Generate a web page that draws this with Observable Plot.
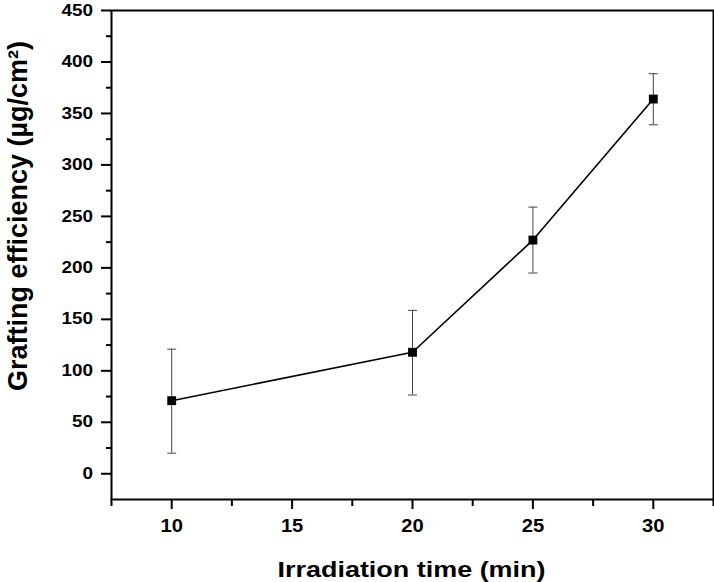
<!DOCTYPE html>
<html>
<head>
<meta charset="utf-8">
<script src="https://cdn.jsdelivr.net/npm/d3@7"></script>
<script src="https://cdn.jsdelivr.net/npm/@observablehq/plot@0.6"></script>
<style>
  html, body { margin: 0; padding: 0; background: #fff; }
  #chart svg { display: block; background: #fff; color: #000; font-family: "Liberation Sans", Arial, sans-serif; }
</style>
</head>
<body>
<div id="chart"></div>
<script>
// Data
const times = [10, 20, 25, 30];
const efficiency = [71, 118, 227, 364];
const errLow = [20, 76.5, 195, 339];
const errHigh = [121, 158.7, 259, 388.6];

const xTicks = [10, 15, 20, 25, 30];
const xMinorTicks = [7.5, 12.5, 17.5, 22.5, 27.5, 32.5];
const yTicks = [0, 50, 100, 150, 200, 250, 300, 350, 400, 450];
const yMinorTicks = [25, 75, 125, 175, 225, 275, 325, 375, 425];

const xTitle = "Irradiation time (min)";
const yTitle = "Grafting efficiency (µg/cm²)";

const rows = times.map((t, i) => ({t, v: efficiency[i], lo: errLow[i], hi: errHigh[i]}));

const capSymbol = {
  draw(context) {
    context.moveTo(-4.5, 0);
    context.lineTo(4.5, 0);
  }
};

const font = "Liberation Sans, Arial, sans-serif";

const svg = Plot.plot({
  width: 714,
  height: 582,
  marginLeft: 111,
  marginRight: 1,
  marginTop: 10,
  marginBottom: 83,
  style: {fontFamily: font, color: "#000", background: "#fff"},
  x: {domain: [7.5, 32.5], label: null},
  y: {domain: [-25, 450], label: null},
  marks: [
    Plot.axisX(xMinorTicks, {tickSize: 7, tickFormat: () => "", strokeWidth: 2, label: null}),
    Plot.axisX(xTicks, {tickSize: 10, tickPadding: 10, fontSize: 18, fontWeight: "bold", strokeWidth: 2, label: null}),
    Plot.axisY(yMinorTicks, {tickSize: 5, tickFormat: () => "", strokeWidth: 2, label: null}),
    Plot.axisY(yTicks, {tickSize: 10, tickPadding: 8.5, fontSize: 16, fontWeight: "bold", strokeWidth: 2, label: null}),
    Plot.frame({stroke: "#000", strokeWidth: 2}),
    Plot.ruleX(rows, {x: "t", y1: "lo", y2: "hi", stroke: "#444", strokeWidth: 1}),
    Plot.dot(rows, {x: "t", y: "lo", symbol: capSymbol, stroke: "#444", fill: "none", strokeWidth: 1}),
    Plot.dot(rows, {x: "t", y: "hi", symbol: capSymbol, stroke: "#444", fill: "none", strokeWidth: 1}),
    Plot.line(rows, {x: "t", y: "v", stroke: "#000", strokeWidth: 1.6}),
    Plot.dot(rows, {x: "t", y: "v", symbol: "square", r: 5, fill: "#000", stroke: "none"}),
    Plot.text([yTitle], {
      text: d => d, frameAnchor: "left", rotate: -90, dx: -93.6, dy: -39,
      textAnchor: "middle", fontSize: 27, fontWeight: "bold", fill: "#000", lineAnchor: "middle"
    }),
    Plot.text([xTitle], {
      text: d => d, frameAnchor: "bottom", dx: -1, dy: 70.3, textAnchor: "middle",
      fontSize: 22, fontWeight: "bold", fill: "#000", lineAnchor: "middle", className: "xtitle"
    })
  ]
});

document.getElementById("chart").append(svg);

// Horizontal stretch of the text to match the reference proportions
function stretch(selector, factor, fixed) {
  svg.querySelectorAll(selector).forEach(t => {
    const L = t.getComputedTextLength();
    if (L > 0) {
      t.setAttribute("textLength", fixed ? fixed : L * factor);
      t.setAttribute("lengthAdjust", "spacingAndGlyphs");
    }
  });
}
stretch('g[aria-label="y-axis tick label"] text', 1.18);
stretch('g[aria-label="x-axis tick label"] text', 1.12);
stretch('.xtitle text', 1, 268);
</script>
</body>
</html>
